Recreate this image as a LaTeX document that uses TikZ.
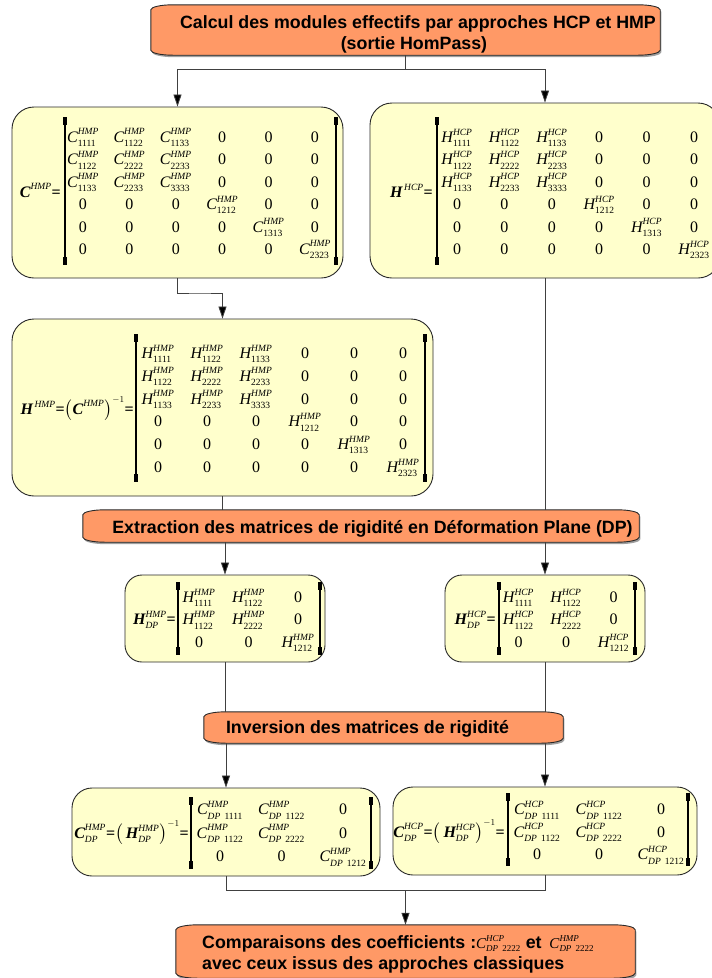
\documentclass[tikz,border=0pt]{standalone}
\usepackage{amsmath}
\usepackage{fontspec}
\setmainfont{Liberation Serif}
\newfontfamily\tfont{Liberation Sans}
\usetikzlibrary{arrows.meta,calc,matrix}
\DeclareMathSizes{16}{16}{9.5}{7}
\DeclareMathSizes{15}{15}{9}{7}
\definecolor{orng}{RGB}{255,153,102}
\definecolor{ylw}{RGB}{255,255,204}
\definecolor{edgec}{RGB}{40,40,40}
\newcommand\mi[1]{\text{\normalfont\itshape #1}}
\newcommand\bi[1]{\text{\normalfont\bfseries\itshape #1}}
\newcommand\up[1]{\text{\normalfont #1}}
\newcommand\en[3]{\mi{#1}^{\mi{#2}}_{\up{#3}}}
\newcommand\dn[3]{\mi{#1}^{\mi{#2}}_{\mi{DP}\;\,\up{#3}}}
\newcommand\z{\up{0}}
\newcommand\eq{\text{\normalfont\bfseries =}}
\newcommand\opath[1]{($(#1.north west)+(0pt,-5pt)$) arc[start angle=180,end angle=90,x radius=22pt,y radius=5pt] -- ($(#1.north east)+(-22pt,0pt)$) arc[start angle=90,end angle=0,x radius=22pt,y radius=5pt] -- ($(#1.south east)+(0pt,5pt)$) arc[start angle=0,end angle=-90,x radius=22pt,y radius=5pt] -- ($(#1.south west)+(22pt,0pt)$) arc[start angle=270,end angle=180,x radius=22pt,y radius=5pt] -- cycle}
\newcommand\oshape[1]{%
  \begin{scope}[transform canvas={shift={(1.2pt,-2pt)}}]\fill[gray!75] \opath{#1};\end{scope}
  \filldraw[fill=orng,draw=edgec,line width=0.9pt] \opath{#1};}
\newcommand\brk[3]{%
  \draw[line width=1.6pt] (#1,#2) -- (#1,#3);
  \fill (#1-1.9,#2) rectangle (#1+1.9,#2+8);
  \fill (#1-1.9,#3-8) rectangle (#1+1.9,#3);}
\tikzset{
  ybox/.style={draw=edgec, line width=0.9pt, fill=ylw, rounded corners=22pt, inner sep=0},
  obx/.style={inner sep=0},
  ttl/.style={font=\tfont\bfseries\fontsize{17.8}{20}\selectfont, inner sep=0},
  link/.style={draw=black!75, line width=0.8pt},
  arr/.style={link, -{Triangle[length=12pt,width=8pt,fill=black]}},
  mat/.style 2 args={matrix of math nodes, inner sep=0pt, column sep=0pt, row sep=0pt,
    nodes={inner sep=0pt, minimum width=#1, minimum height=#2, text height=14pt, text depth=3.2pt,
      font=\fontsize{16}{18}\selectfont, anchor=center}},
  lbl/.style={inner sep=0pt, anchor=east, text height=14pt, text depth=3.2pt, font=\fontsize{16}{18}\selectfont},
}
\begin{document}
\begin{tikzpicture}[x=1pt,y=-1pt]
\useasboundingbox (0,0) rectangle (712,978);
\fill[white] (0,0) rectangle (712,978);
\clip (0,0) rectangle (712,978);

% ---- boxes
\node[obx, minimum width=509pt, minimum height=50pt] (top) at (405.5,30) {};
\oshape{top}
\node[ttl, anchor=base] (ttop1) at (418,28.5) {Calcul des modules effectifs par approches HCP et HMP};
\node[ttl, anchor=base] (ttop2) at (414,49) {(sortie HomPass)};

\node[ybox, minimum width=331pt, minimum height=171pt] (chmp) at (177.5,192.5) {};
\node[ybox, minimum width=350pt, minimum height=175pt] (hhcp) at (545,190.5) {};
\node[ybox, minimum width=421pt, minimum height=177pt] (hhmp) at (222.5,407.5) {};

\node[obx, minimum width=556pt, minimum height=32pt] (ext) at (361,526) {};
\oshape{ext}
\node[ttl, anchor=base] (text) at (372.5,533) {Extraction des matrices de rigidité en Déformation Plane (DP)};

\node[ybox, rounded corners=17pt, minimum width=200pt, minimum height=87pt] (hdphmp) at (225,618.5) {};
\node[ybox, rounded corners=17pt, minimum width=200pt, minimum height=87pt] (hdphcp) at (545,618.5) {};

\node[obx, minimum width=359pt, minimum height=31pt] (inv) at (383.5,727.5) {};
\oshape{inv}
\node[ttl, anchor=base] (tinv) at (367.5,733) {Inversion des matrices de rigidité};

\node[ybox, rounded corners=20pt, minimum width=308pt, minimum height=88pt] (cdphmp) at (226,832) {};
\node[ybox, rounded corners=20pt, minimum width=304pt, minimum height=88pt] (cdphcp) at (545,831) {};

\node[obx, minimum width=459pt, minimum height=53pt] (comp) at (405.5,951.5) {};
\oshape{comp}
\node[ttl, anchor=base west] (tcomp1) at (202,948) {Comparaisons des coefficients :{\fontsize{15}{18}\selectfont$\dn{C}{HCP}{2222}$} et\, {\fontsize{15}{18}\selectfont$\dn{C}{HMP}{2222}$}};
\node[ttl, anchor=base west] (tcomp2) at (202,969) {avec ceux issus des approches classiques};

% ---- matrix 1 : C^HMP
\node[lbl] (l1) at (61,192) {$\bi{C}^{\mi{HMP}}\eq$};
\brk{65}{117}{265}\brk{336}{117}{265}
\matrix (m1) [mat={46.4pt}{22.4pt}] at (199,193) {
\en{C}{HMP}{1111} & \en{C}{HMP}{1122} & \en{C}{HMP}{1133} & \z & \z & \z \\
\en{C}{HMP}{1122} & \en{C}{HMP}{2222} & \en{C}{HMP}{2233} & \z & \z & \z \\
\en{C}{HMP}{1133} & \en{C}{HMP}{2233} & \en{C}{HMP}{3333} & \z & \z & \z \\
\z & \z & \z & \en{C}{HMP}{1212} & \z & \z \\
\z & \z & \z & \z & \en{C}{HMP}{1313} & \z \\
\z & \z & \z & \z & \z & \en{C}{HMP}{2323} \\
};

% ---- matrix 2 : H^HCP
\node[lbl] (l2) at (433,192) {$\bi{H}^{\,\mi{HCP}}\eq$};
\brk{437}{117}{265}\brk{720}{117}{265}
\matrix (m2) [mat={47.4pt}{22.4pt}] at (575.5,193) {
\en{H}{HCP}{1111} & \en{H}{HCP}{1122} & \en{H}{HCP}{1133} & \z & \z & \z \\
\en{H}{HCP}{1122} & \en{H}{HCP}{2222} & \en{H}{HCP}{2233} & \z & \z & \z \\
\en{H}{HCP}{1133} & \en{H}{HCP}{2233} & \en{H}{HCP}{3333} & \z & \z & \z \\
\z & \z & \z & \en{H}{HCP}{1212} & \z & \z \\
\z & \z & \z & \z & \en{H}{HCP}{1313} & \z \\
\z & \z & \z & \z & \z & \en{H}{HCP}{2323} \\
};

% ---- matrix 3 : H^HMP
\node[lbl] (l3) at (134,409) {$\bi{H}^{\,\mi{HMP}}\eq\bigl(\bi{C}^{\mi{HMP}}\bigr)^{-1}\eq$};
\brk{136}{334}{482}\brk{425}{334}{482}
\matrix (m3) [mat={49pt}{22.8pt}] at (280.5,410) {
\en{H}{HMP}{1111} & \en{H}{HMP}{1122} & \en{H}{HMP}{1133} & \z & \z & \z \\
\en{H}{HMP}{1122} & \en{H}{HMP}{2222} & \en{H}{HMP}{2233} & \z & \z & \z \\
\en{H}{HMP}{1133} & \en{H}{HMP}{2233} & \en{H}{HMP}{3333} & \z & \z & \z \\
\z & \z & \z & \en{H}{HMP}{1212} & \z & \z \\
\z & \z & \z & \z & \en{H}{HMP}{1313} & \z \\
\z & \z & \z & \z & \z & \en{H}{HMP}{2323} \\
};

% ---- matrix 4 : H_DP^HMP
\node[lbl] (l4) at (176,619) {$\bi{H}^{\mi{HMP}}_{\mi{DP}}\eq$};
\brk{178}{582}{655}\brk{320}{582}{655}
\matrix (m4) [mat={49.5pt}{22.5pt}] at (248.5,619.5) {
\en{H}{HMP}{1111} & \en{H}{HMP}{1122} & \z \\
\en{H}{HMP}{1122} & \en{H}{HMP}{2222} & \z \\
\z & \z & \en{H}{HMP}{1212} \\
};

% ---- matrix 5 : H_DP^HCP
\node[lbl] (l5) at (496,619) {$\bi{H}^{\mi{HCP}}_{\mi{DP}}\eq$};
\brk{499}{582}{655}\brk{635}{582}{655}
\matrix (m5) [mat={47.5pt}{22.5pt}] at (566,619.5) {
\en{H}{HCP}{1111} & \en{H}{HCP}{1122} & \z \\
\en{H}{HCP}{1122} & \en{H}{HCP}{2222} & \z \\
\z & \z & \en{H}{HCP}{1212} \\
};

% ---- matrix 6 : C_DP^HMP
\node[lbl] (l6) at (189,833) {$\bi{C}^{\mi{HMP}}_{\mi{DP}}\eq\bigl(\,\bi{H}^{\mi{HMP}}_{\mi{DP}}\bigr)^{-1}\eq$};
\brk{191}{797}{869}\brk{371}{797}{869}
\matrix (m6) [mat={61.5pt}{23.5pt}] at (281.5,833) {
\dn{C}{HMP}{1111} & \dn{C}{HMP}{1122} & \z \\
\dn{C}{HMP}{1122} & \dn{C}{HMP}{2222} & \z \\
\z & \z & \dn{C}{HMP}{1212} \\
};

% ---- matrix 7 : C_DP^HCP
\node[lbl] (l7) at (505,832) {$\bi{C}^{\mi{HCP}}_{\mi{DP}}\eq\bigl(\,\bi{H}^{\mi{HCP}}_{\mi{DP}}\bigr)^{-1}\eq$};
\brk{508}{793}{866}\brk{688}{793}{866}
\matrix (m7) [mat={62pt}{22.5pt}] at (599,832) {
\dn{C}{HCP}{1111} & \dn{C}{HCP}{1122} & \z \\
\dn{C}{HCP}{1122} & \dn{C}{HCP}{2222} & \z \\
\z & \z & \dn{C}{HCP}{1212} \\
};

% ---- connectors
\coordinate (j1) at (405.5,69);
\coordinate (j2) at (200,293);
\coordinate (j3) at (405.5,890);
\draw[link] (top.south) -- (j1);
\draw[arr] (j1) -| (chmp.north);
\draw[arr] (j1) -| (hhcp.north);
\draw[arr] (chmp.south) |- (j2) -| (hhmp.north);
\draw[link] (hhcp.south) -- (hhcp.south |- ext.north);
\draw[link] (hhmp.south) -- (hhmp.south |- ext.north);
\draw[arr] (hdphmp.north |- ext.south) -- (hdphmp.north);
\draw[arr] (hdphcp.north |- ext.south) -- (hdphcp.north);
\draw[link] (hdphmp.south) -- (hdphmp.south |- inv.north);
\draw[link] (hdphcp.south) -- (hdphcp.south |- inv.north);
\draw[arr] (cdphmp.north |- inv.south) -- (cdphmp.north);
\draw[arr] (cdphcp.north |- inv.south) -- (cdphcp.north);
\draw[link] (cdphmp.south) |- (j3) -| (cdphcp.south);
\draw[arr] (j3) -- (comp.north);
\end{tikzpicture}
\end{document}
